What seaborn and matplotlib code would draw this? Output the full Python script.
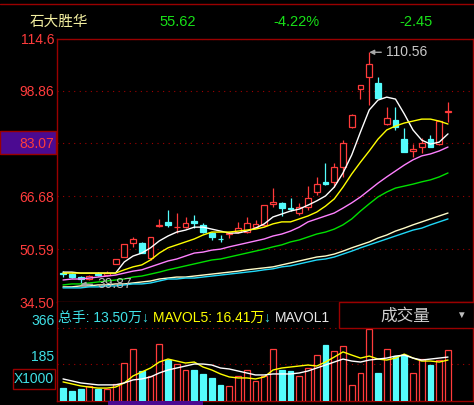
import numpy as np
import pandas as pd
import matplotlib
matplotlib.use("Agg")
import matplotlib.pyplot as plt
import matplotlib.transforms as mtransforms
from matplotlib.patches import Rectangle
from matplotlib.lines import Line2D
from matplotlib.text import Annotation
import seaborn as sns

# ==============================
# DATA
# ==============================
opens = [43.2, 43.0, 42.1, 41.5, 43.0, 42.7, 46.1, 48.2, 52.5, 52.5,
         47.9, 57.6, 58.9, 57.2, 57.3, 59.3, 57.9, 55.5, 53.8, 55.2,
         55.8, 55.8, 57.3, 58.0, 64.3, 64.6, 63.0, 61.6, 63.4, 68.0,
         70.9, 71.0, 75.6, 87.8, 99.4, 103.0, 101.2, 88.7, 89.9, 84.1,
         80.6, 81.7, 84.1, 82.6, 92.4]
highs = [43.9, 43.3, 42.4, 42.7, 43.6, 43.9, 47.6, 52.2, 54.3, 52.8,
         54.3, 59.8, 62.5, 61.6, 60.4, 61.0, 58.6, 55.8, 54.9, 55.8,
         58.9, 60.4, 59.5, 64.0, 69.2, 64.9, 66.2, 64.6, 69.8, 72.6,
         76.8, 76.8, 83.8, 91.8, 100.6, 110.56, 103.0, 93.9, 93.9, 87.5,
         82.6, 84.4, 85.4, 89.6, 95.4]
lows = [42.2, 41.9, 39.87, 41.2, 42.4, 42.4, 46.1, 48.2, 51.2, 49.4,
        47.3, 57.3, 57.3, 55.5, 57.0, 57.0, 55.5, 53.4, 52.8, 54.0,
        55.5, 55.5, 57.0, 57.6, 63.4, 60.7, 62.2, 61.0, 62.5, 67.1,
        70.2, 69.5, 72.6, 87.5, 96.3, 94.5, 96.6, 88.4, 86.9, 80.2,
        78.7, 79.9, 81.7, 82.3, 89.3]
closes = [43.0, 42.1, 41.5, 42.4, 42.8, 43.3, 47.6, 52.2, 53.7, 49.4,
          54.3, 57.9, 58.0, 57.4, 58.6, 58.6, 55.8, 54.3, 53.6, 55.6,
          57.0, 58.6, 58.3, 64.0, 64.9, 63.1, 62.8, 63.4, 66.2, 70.4,
          70.4, 75.6, 83.0, 91.5, 100.6, 107.0, 96.6, 90.5, 87.8, 80.2,
          81.0, 83.0, 81.7, 89.6, 92.7]

ma5 = [43.6, 43.6, 43.3, 43.3, 43.3, 43.3, 43.3, 46.7, 48.5, 49.4,
       51.0, 53.1, 54.6, 55.8, 56.4, 57.3, 57.3, 56.7, 56.1, 55.5,
       55.5, 56.1, 57.0, 58.3, 60.4, 61.3, 62.2, 62.8, 64.0, 65.3,
       66.8, 69.5, 73.8, 79.3, 86.3, 93.0, 96.0, 96.9, 96.3, 91.8,
       86.9, 83.8, 82.6, 83.2, 85.7]
ma10 = [43.3, 43.3, 43.3, 43.3, 43.3, 43.3, 43.3, 44.3, 45.2, 45.8,
        47.3, 49.4, 51.0, 51.9, 52.8, 53.7, 54.9, 55.8, 55.8, 55.8,
        56.1, 56.4, 56.7, 57.3, 58.3, 58.9, 58.9, 59.8, 60.7, 61.9,
        63.7, 65.9, 69.5, 73.5, 77.1, 80.5, 84.1, 86.9, 88.1, 89.0,
        89.6, 90.2, 90.2, 89.6, 88.7]
ma20 = [41.2, 41.5, 41.5, 41.8, 42.1, 42.4, 42.7, 43.3, 43.9, 44.3,
        45.2, 46.1, 47.0, 47.6, 48.5, 49.4, 49.7, 50.3, 50.6, 51.3,
        51.9, 52.5, 53.1, 53.7, 54.6, 55.2, 56.1, 57.3, 58.9, 59.8,
        60.7, 61.6, 63.1, 64.7, 66.5, 68.6, 70.7, 72.6, 74.4, 76.2,
        77.8, 79.0, 79.6, 80.5, 81.7]
ma30 = [39.7, 40.0, 40.0, 40.3, 40.6, 40.9, 41.2, 41.5, 42.1, 42.4,
        43.0, 43.6, 44.3, 44.9, 45.5, 46.1, 46.7, 47.3, 47.6, 48.2,
        48.8, 49.4, 50.0, 50.6, 51.3, 51.9, 52.8, 53.4, 54.3, 55.2,
        55.8, 56.7, 58.0, 59.8, 62.2, 64.4, 66.5, 68.0, 69.2, 69.8,
        70.4, 71.1, 71.7, 72.6, 73.8]
ma60 = [39.1, 39.1, 39.4, 39.4, 39.7, 39.7, 40.0, 40.0, 40.3, 40.6,
        40.9, 41.5, 41.8, 42.1, 42.1, 42.4, 42.7, 43.0, 43.3, 43.6,
        43.9, 44.3, 44.6, 44.9, 45.2, 45.8, 46.4, 47.0, 47.6, 48.2,
        48.5, 49.1, 50.0, 51.0, 51.9, 52.8, 54.0, 54.9, 56.1, 57.0,
        58.0, 58.9, 59.8, 60.7, 61.6]
ma120 = [38.8, 38.8, 38.8, 39.1, 39.1, 39.4, 39.4, 39.7, 40.0, 40.0,
         40.3, 40.9, 41.5, 41.5, 41.8, 41.8, 42.1, 42.4, 42.7, 43.0,
         43.3, 43.6, 43.9, 44.3, 44.6, 45.2, 45.5, 46.1, 46.7, 47.3,
         47.6, 48.2, 49.1, 50.0, 51.0, 51.9, 52.8, 53.7, 54.6, 55.5,
         56.4, 57.0, 58.0, 58.9, 59.8]

# volume in units of 1000 hands
volume = [65, 50, 60, 75, 60, 60, 85, 191, 262, 151,
          126, 287, 206, 186, 156, 156, 136, 116, 80, 75,
          126, 156, 100, 126, 262, 156, 151, 126, 166, 231,
          282, 252, 277, 80, 141, 362, 141, 262, 227, 232,
          141, 211, 181, 206, 257]
mavol5 = [96, 86, 76, 70, 65, 65, 70, 91, 126, 146,
          166, 196, 211, 201, 191, 196, 171, 156, 136, 121,
          116, 116, 111, 121, 156, 166, 171, 176, 181, 176,
          196, 221, 247, 231, 216, 226, 211, 206, 216, 236,
          216, 201, 201, 196, 206]
mavol10 = [111, 101, 91, 86, 81, 81, 81, 91, 106, 111,
           121, 141, 156, 166, 176, 186, 186, 181, 166, 161,
           151, 141, 131, 131, 136, 136, 136, 141, 151, 166,
           181, 196, 211, 201, 196, 206, 211, 216, 226, 231,
           216, 206, 211, 216, 221]

price_ticks = ["34.50", "50.59", "66.68", "83.07", "98.86", "114.6"]
vol_ticks = ["185", "366"]

# ==============================
# STYLE
# ==============================
sns.set_theme(style="dark", rc={"axes.facecolor": "black",
                                "figure.facecolor": "black"})
plt.rcParams['font.family'] = ['Liberation Sans', 'Noto Sans CJK SC', 'DejaVu Sans']

DARK_RED = "#9a0000"
UP = "#ff3b3b"
DOWN = "#54fcfc"
LABEL_RED = "#ff3c3c"
LABEL_CYAN = "#3fe0e6"
GRID = dict(color="#a00000", linestyle=(0, (1, 4)), linewidth=0.8)

W, H = 474, 405
fig = plt.figure(figsize=(W / 100, H / 100), dpi=100)
ax = fig.add_axes([57 / W, 1 - 302 / H, 416 / W, 263 / H])
axv = fig.add_axes([57 / W, 1 - 401 / H, 416 / W, 99 / H])

n = len(opens)
x = np.arange(n)
o, c = np.array(opens), np.array(closes)
is_up = c >= o
edge = np.where(is_up, UP, DOWN)
fill = np.where(is_up, "black", DOWN)

# ==============================
# PRICE PANEL
# ==============================
ax.vlines(x, lows, highs, colors=edge, linewidth=0.9, zorder=3)
ax.bar(x, np.abs(c - o), bottom=np.minimum(o, c), width=0.68,
       color=fill, edgecolor=edge, linewidth=0.9, zorder=3)

ma_df = pd.DataFrame({"idx": x, "MA5": ma5, "MA10": ma10, "MA20": ma20,
                      "MA30": ma30, "MA60": ma60, "MA120": ma120})
ma_long = ma_df.melt(id_vars="idx", var_name="line", value_name="value")
ma_colors = {"MA5": "#ffffff", "MA10": "#ffff00", "MA20": "#ff80ff",
             "MA30": "#00e000", "MA60": "#fffcc8", "MA120": "#20d8f8"}
sns.lineplot(data=ma_long, x="idx", y="value", hue="line", palette=ma_colors,
             linewidth=1, legend=False, ax=ax, zorder=4)

ax.set_xlim(-0.69, 46.86)
ax.set_ylim(34.5, 114.6)
ax.set_yticks([float(t) for t in price_ticks])
ax.set_yticklabels(price_ticks)
ax.tick_params(axis="y", colors=LABEL_RED, labelsize=10, length=0, pad=2)
ax.set_xticks([])
ax.set_xlabel("")
ax.set_ylabel("")
ax.yaxis.grid(True, **GRID)
for s in ax.spines.values():
    s.set_visible(True)
    s.set_color(DARK_RED)
    s.set_linewidth(1)

# high / low markers
arrow = dict(arrowstyle="-|>", color="#a8a8a8", lw=1, shrinkA=1, shrinkB=0, mutation_scale=7)
ax.annotate("110.56", xy=(35, 110.56), xytext=(12, 0), textcoords="offset points",
            ha="left", va="center", color="#c8c8c8", fontsize=10, zorder=6, arrowprops=arrow)
ax.annotate("39.87", xy=(2, 39.87), xytext=(12, 0), textcoords="offset points",
            ha="left", va="center", color="#b8b8b8", fontsize=10, zorder=6, arrowprops=arrow)

# ==============================
# VOLUME PANEL
# ==============================
axv.bar(x, volume, width=0.68, color=fill, edgecolor=edge, linewidth=0.9, zorder=3)
vol_df = pd.DataFrame({"idx": x, "MAVOL5": mavol5, "MAVOL10": mavol10})
vol_long = vol_df.melt(id_vars="idx", var_name="line", value_name="value")
sns.lineplot(data=vol_long, x="idx", y="value", hue="line",
             palette={"MAVOL5": "#ffff00", "MAVOL10": "#ffffff"},
             linewidth=1, legend=False, ax=axv, zorder=4)
axv.set_xlim(-0.69, 46.86)
axv.set_ylim(0, 498)
axv.set_yticks([float(t) for t in vol_ticks])
axv.set_yticklabels([])
axv.tick_params(axis="y", length=0)
axv.set_xticks([])
axv.set_xlabel("")
axv.set_ylabel("")
axv.yaxis.grid(True, **GRID)
for name, s in axv.spines.items():
    s.set_visible(name != "top")
    s.set_color(DARK_RED)
    s.set_linewidth(1)

blend = mtransforms.blended_transform_factory(axv.transAxes, axv.transData)
for t in vol_ticks:
    axv.text(-0.006, float(t), t, transform=blend, ha="right", va="bottom",
             color=LABEL_CYAN, fontsize=10, clip_on=False)

# ==============================
# FIGURE DECORATIONS
# ==============================
fig.add_artist(Line2D([0, 1], [1 - 4 / H] * 2, color=DARK_RED, lw=1,
                      transform=fig.transFigure))
# last-price box behind 83.07
fig.add_artist(Rectangle((0, 1 - 154 / H), 56 / W, 23 / H, transform=fig.transFigure,
                         facecolor="#4b0a91", edgecolor=DARK_RED, lw=1, zorder=-1))

hy = 1 - 22 / H
fig.text(59 / W, hy, "石大胜华", ha="center", va="center", color="#f2eea0", fontsize=10.5)
fig.text(178 / W, hy, "55.62", ha="center", va="center", color="#18e018", fontsize=10.5)
fig.text(296 / W, hy, "-4.22%", ha="center", va="center", color="#18e018", fontsize=10.5)
fig.text(416 / W, hy, "-2.45", ha="center", va="center", color="#18e018", fontsize=10.5)

# volume header line, pieces chained left to right
vy = 1 - 318 / H
prev = fig.text(58 / W, vy, "总手: 13.50万", ha="left", va="center",
                color=LABEL_CYAN, fontsize=10, zorder=3)
pieces = [("↓ ", LABEL_CYAN), ("MAVOL5: 16.41万", "#ffff00"),
          ("↓ ", LABEL_CYAN), ("MAVOL1", "#e8e8e8")]
for txt, col in pieces:
    prev = fig.add_artist(Annotation(txt, xy=(1, 0.5), xycoords=prev, va="center",
                                     ha="left", color=col, fontsize=10, zorder=3))

fig.add_artist(Rectangle((339 / W, 1 - 328 / H), (W - 339) / W, 26 / H,
                         transform=fig.transFigure, facecolor="black",
                         edgecolor=DARK_RED, lw=1, zorder=5))
fig.text(405 / W, 1 - 316 / H, "成交量", ha="center", va="center",
         color="#cfcfcf", fontsize=12, zorder=6)
fig.text(461 / W, 1 - 315 / H, "▼", ha="center", va="center",
         color="#bdbdbd", fontsize=7, zorder=6)

fig.add_artist(Rectangle((13 / W, 1 - 389 / H), 42 / W, 20 / H, transform=fig.transFigure,
                         facecolor="none", edgecolor=DARK_RED, lw=1, zorder=5))
fig.text(34 / W, 1 - 379 / H, "X1000", ha="center", va="center",
         color=LABEL_CYAN, fontsize=10, zorder=6)
fig.add_artist(Rectangle((108 / W, 0), 95 / W, 4 / H, transform=fig.transFigure,
                         facecolor="#4b0a91", edgecolor="none", zorder=5))

fig.savefig("out.png", dpi=100, facecolor="black")
plt.close(fig)
